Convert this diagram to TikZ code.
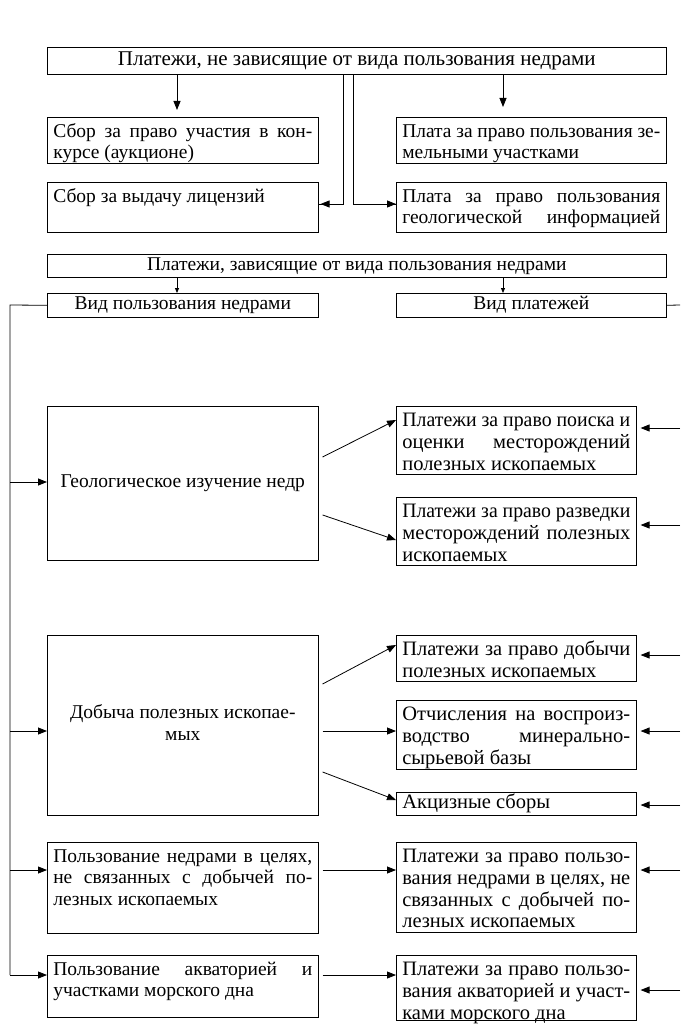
\documentclass[tikz,border=0pt]{standalone}
\usepackage{fontspec}
\usepackage{graphicx}
\setmainfont{Liberation Serif}
\usetikzlibrary{arrows.meta,calc}
\newcommand{\jl}[1]{\setbox0\hbox{\strut #1}\ifdim\wd0>\linewidth
  \hbox to\linewidth{\resizebox{\linewidth}{\height}{\strut #1}}\else
  \hbox to\linewidth{\strut #1}\fi}
\newcommand{\lastl}[1]{\hbox to\linewidth{\strut #1\hfil}}
\newcommand{\cl}[1]{\hbox to\linewidth{\hfil\strut #1\hfil}}
\newcommand{\tbox}[3]{\parbox[c][#2][t]{#1}{\vspace*{5pt}#3}}
\newcommand{\cbox}[3]{\parbox[c][#2][c]{#1}{#3}}
\tikzset{
  x=1pt, y=-1pt,
  every node/.style={font=\fontsize{19.5}{21.5}\selectfont},
  bx/.style={draw, line width=0.6pt, inner xsep=6pt, inner ysep=0pt, anchor=north west},
  big/.style={font=\fontsize{20.5}{21.8}\selectfont},
  arr/.style={line width=0.8pt, -{Triangle[length=9pt,width=7pt]}},
  sarr/.style={line width=0.8pt, -{Triangle[length=5pt,width=4pt]}},
  ln/.style={line width=0.8pt}
}
\begin{document}
\begin{tikzpicture}
\useasboundingbox (0,0) rectangle (680,1027);
% top section
\node[bx, font=\fontsize{21}{22}\selectfont] (top) at (47,47) {\cbox{607pt}{27pt}{\cl{Платежи, не зависящие от вида пользования недрами}}};
\node[bx] (s1) at (47,117) {\tbox{259pt}{46pt}{\jl{Сбор за право участия в кон-}\lastl{курсе (аукционе)}}};
\node[bx] (p1) at (396,117) {\tbox{258pt}{46pt}{\jl{Плата за право пользования зе-}\lastl{мельными участками}}};
\node[bx] (s2) at (47,182) {\tbox{259pt}{50pt}{\lastl{Сбор за выдачу лицензий}}};
\node[bx] (p2) at (396,182) {\tbox{258pt}{50pt}{\jl{Плата за право пользования}\jl{геологической информацией}}};
% middle
\node[bx] (mid) at (47,254) {\cbox{607pt}{23pt}{\cl{Платежи, зависящие от вида пользования недрами}}};
\node[bx] (vn) at (47,293) {\cbox{259pt}{24pt}{\cl{Вид пользования недрами}}};
\node[bx] (vp) at (396,293) {\cbox{258pt}{24pt}{\cl{Вид платежей}}};
% lower left
\node[bx] (geo) at (47,406) {\cbox{259pt}{154pt}{\cl{Геологическое изучение недр}}};
\node[bx] (dob) at (47,635) {\cbox{259pt}{180pt}{\cl{Добыча полезных ископае-}\cl{мых}}};
\node[bx] (nd) at (47,842) {\tbox{259pt}{91pt}{\jl{Пользование недрами в целях,}\jl{не связанных с добычей по-}\lastl{лезных ископаемых}}};
\node[bx] (ak) at (47,955) {\tbox{259pt}{62pt}{\jl{Пользование акваторией и}\lastl{участками морского дна}}};
% lower right
\node[bx, big] (r1) at (396,406) {\tbox{228pt}{68pt}{\jl{Платежи за право поиска и}\jl{оценки месторождений}\lastl{полезных ископаемых}}};
\node[bx, big] (r2) at (396,497) {\tbox{228pt}{68pt}{\jl{Платежи за право разведки}\jl{месторождений полезных}\lastl{ископаемых}}};
\node[bx, big] (r3) at (396,635) {\tbox{228pt}{46pt}{\jl{Платежи за право добычи}\lastl{полезных ископаемых}}};
\node[bx, big] (r4) at (396,700) {\tbox{228pt}{69pt}{\jl{Отчисления на воспроиз-}\jl{водство минерально-}\lastl{сырьевой базы}}};
\node[bx, big] (r5) at (396,792) {\cbox{228pt}{23pt}{\lastl{Акцизные сборы}}};
\node[bx, big] (r6) at (396,842) {\tbox{228pt}{90pt}{\jl{Платежи за право пользо-}\jl{вания недрами в целях, не}\jl{связанных с добычей по-}\lastl{лезных ископаемых}}};
\node[bx, big] (r7) at (396,955) {\tbox{228pt}{65pt}{\jl{Платежи за право пользо-}\jl{вания акваторией и участ-}\lastl{ками морского дна}}};

% top connectors
\draw[arr] (top.south -| 177,0) -- ($(s1.north -| 177,0)+(0,-7)$);
\draw[arr] (top.south -| 503,0) -- ($(p1.north -| 503,0)+(0,-10)$);
\draw[ln] (top.south -| 343,0) |- coordinate[pos=0.5] (c1) (s2.east |- 0,204);
\draw[arr] (c1) -- ($(s2.east |- 0,204)+(2,0)$);
\draw[ln] (top.south -| 353,0) |- coordinate[pos=0.5] (c2) (p2.west |- 0,204);
\draw[arr] (c2) -- (p2.west |- 0,204);
% middle connectors
\draw[sarr] (mid.south -| 177,0) -- (vn.north -| 177,0);
\draw[sarr] (mid.south -| 503,0) -- (vp.north -| 503,0);
% left bus
\coordinate (lb) at (10,305);
\draw[ln] (vn.west) -- (lb) -- (10,975);
\draw[arr] (10,482) -- (geo.west |- 0,482);
\draw[arr] (10,731) -- (dob.west |- 0,731);
\draw[arr] (10,870) -- (nd.west |- 0,870);
\draw[arr] (10,975) -- (ak.west |- 0,975);
% right bus
\coordinate (rb) at (680,305);
\draw[ln] (vp.east) -- (rb);
\foreach \n/\yy in {r1/428, r2/525, r3/655, r4/731, r5/805, r6/870, r7/990}{
  \draw[arr, shorten >=4pt] (680,\yy) -- (\n.east |- 0,\yy);
}
% diagonal connectors
\draw[arr] ($(geo.east |- 0,457)+(4,0)$) -- (r1.west |- 0,420);
\draw[arr] ($(geo.east |- 0,515)+(4,0)$) -- (r2.west |- 0,540);
\draw[arr] ($(dob.east |- 0,684)+(4,0)$) -- (r3.west |- 0,645);
\draw[arr] ($(dob.east |- 0,731)+(4,0)$) -- (r4.west |- 0,731);
\draw[arr] ($(dob.east |- 0,772)+(4,0)$) -- (r5.west |- 0,800);
\draw[arr] ($(nd.east |- 0,870)+(4,0)$) -- (r6.west |- 0,870);
\draw[arr] ($(ak.east |- 0,975)+(4,0)$) -- (r7.west |- 0,975);
\end{tikzpicture}
\end{document}
